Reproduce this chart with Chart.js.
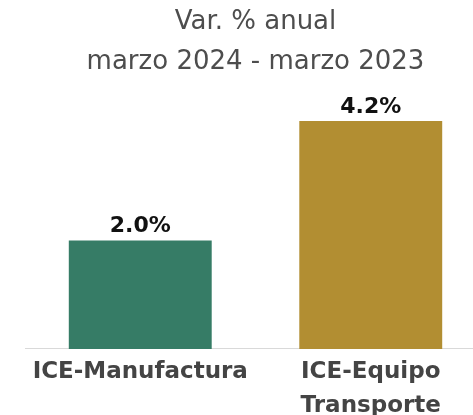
<!DOCTYPE html>
<html>
<head>
<meta charset="utf-8">
<script src="https://cdn.jsdelivr.net/npm/chart.js@4"></script>
<style>
html,body{margin:0;padding:0;background:#fff;overflow:hidden;}
#wrap{width:490px;height:415px;}
</style>
</head>
<body>
<div id="wrap"><canvas id="c"></canvas></div>
<script>
const categories = ['ICE-Manufactura', ['ICE-Equipo', 'Transporte']];
const values = [2.0, 4.2];
const valueLabels = ['2.0%', '4.2%'];
const barColors = ['#367c66', '#b28e32'];
const titleLines = ['Var. % anual', 'marzo 2024 - marzo 2023'];

const labelPlugin = {
  id: 'valueLabels',
  afterDatasetsDraw(chart) {
    const ctx = chart.ctx;
    const meta = chart.getDatasetMeta(0);
    ctx.save();
    ctx.font = 'bold 22px "DejaVu Sans"';
    ctx.fillStyle = '#111';
    ctx.textAlign = 'center';
    ctx.textBaseline = 'alphabetic';
    meta.data.forEach((bar, i) => {
      ctx.fillText(valueLabels[i], bar.x, bar.y - 8);
    });
    ctx.restore();
  }
};

new Chart(document.getElementById('c'), {
  type: 'bar',
  data: {
    labels: categories,
    datasets: [{
      data: values,
      backgroundColor: barColors,
      barPercentage: 0.62,
      categoryPercentage: 1.0
    }]
  },
  options: {
    responsive: true,
    maintainAspectRatio: false,
    animation: false,
    layout: { padding: { left: 25, right: 4, top: 0, bottom: -14 } },
    plugins: {
      legend: { display: false },
      tooltip: { enabled: false },
      title: {
        display: true,
        text: titleLines,
        color: '#4d4d4d',
        font: { family: 'DejaVu Sans', size: 26, weight: 'normal', lineHeight: 1.54 },
        padding: { top: 2, bottom: 8 }
      }
    },
    scales: {
      x: {
        grid: { display: false, drawTicks: false },
        border: { display: true, color: '#d9d9d9', width: 1 },
        ticks: {
          color: '#444',
          font: { family: 'DejaVu Sans', size: 23, weight: 'bold', lineHeight: 1.48 },
          padding: 6,
          maxRotation: 0,
          autoSkip: false
        }
      },
      y: {
        display: false,
        min: 0,
        max: 4.77
      }
    }
  },
  plugins: [labelPlugin]
});
</script>
</body>
</html>
